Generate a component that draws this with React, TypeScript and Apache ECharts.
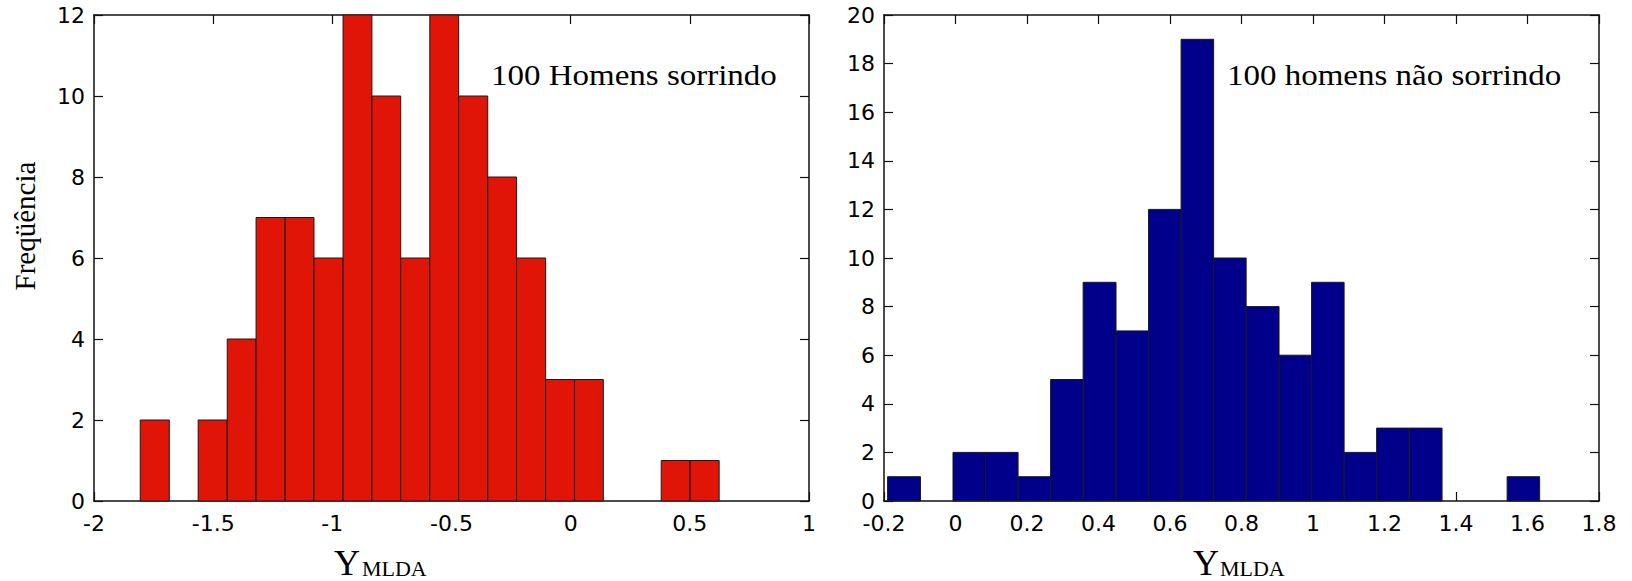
import React, { useEffect, useRef } from "react";
import * as echarts from "echarts";

// Left histogram: 100 men smiling
const leftEdges = [-1.806, -1.684, -1.563, -1.441, -1.320, -1.198, -1.077, -0.955, -0.834, -0.713, -0.591, -0.470, -0.348, -0.227, -0.105, 0.016, 0.137, 0.259, 0.380, 0.501, 0.623];
const leftCounts = [2, 0, 2, 4, 7, 7, 6, 12, 10, 6, 12, 10, 8, 6, 3, 3, 0, 0, 1, 1];

// Right histogram: 100 men not smiling
const rightEdges = [-0.190, -0.098, -0.007, 0.084, 0.175, 0.266, 0.357, 0.449, 0.540, 0.631, 0.722, 0.813, 0.905, 0.996, 1.087, 1.178, 1.269, 1.361, 1.452, 1.543, 1.634];
const rightCounts = [1, 0, 2, 2, 1, 5, 9, 7, 12, 19, 10, 8, 6, 9, 2, 3, 3, 0, 0, 1];

const leftLabel = "100 Homens sorrindo";
const rightLabel = "100 homens não sorrindo";
const yTitle = "Freqüência";
const xTitleMain = "Y";
const xTitleSub = "MLDA";

const SANS = "'DejaVu Sans', Verdana, sans-serif";
const SERIF = "'Liberation Serif', 'Times New Roman', serif";

function toBins(edges: number[], counts: number[]) {
  return counts.map((c, i) => [edges[i], edges[i + 1], c]);
}

function makeRender(fill: string) {
  return (params: any, api: any) => {
    const x0 = api.value(0);
    const x1 = api.value(1);
    const y = api.value(2);
    if (!y) return null;
    const p0 = api.coord([x0, 0]);
    const p1 = api.coord([x1, y]);
    return {
      type: "rect",
      shape: { x: p0[0], y: p1[1], width: p1[0] - p0[0], height: p0[1] - p1[1] },
      style: { fill, stroke: "#1a1a1a", lineWidth: 1 },
    };
  };
}

const axisLineStyle = { color: "#111", width: 1.5 };
const tickStyle = { show: true, inside: true, length: 9, lineStyle: { color: "#111", width: 1.2 } };

function xAxes(gridIndex: number, min: number, max: number, interval: number) {
  return [
    {
      type: "value",
      gridIndex,
      min,
      max,
      interval,
      position: "bottom",
      axisLine: { show: true, onZero: false, lineStyle: axisLineStyle },
      axisTick: tickStyle,
      axisLabel: { show: true, margin: 11, fontSize: 22, fontFamily: SANS, color: "#000" },
      splitLine: { show: false },
    },
    {
      type: "value",
      gridIndex,
      min,
      max,
      interval,
      position: "top",
      axisLine: { show: true, onZero: false, lineStyle: axisLineStyle },
      axisTick: tickStyle,
      axisLabel: { show: false },
      splitLine: { show: false },
    },
  ];
}

function yAxes(gridIndex: number, max: number) {
  return [
    {
      type: "value",
      gridIndex,
      min: 0,
      max,
      interval: 2,
      position: "left",
      axisLine: { show: true, onZero: false, lineStyle: axisLineStyle },
      axisTick: tickStyle,
      axisLabel: { show: true, margin: 9, fontSize: 22, fontFamily: SANS, color: "#000", padding: [4, 0, 0, 0] },
      splitLine: { show: false },
    },
    {
      type: "value",
      gridIndex,
      min: 0,
      max,
      interval: 2,
      position: "right",
      axisLine: { show: true, onZero: false, lineStyle: axisLineStyle },
      axisTick: tickStyle,
      axisLabel: { show: false },
      splitLine: { show: false },
    },
  ];
}

function axisTitle(xY: number, xSub: number) {
  return [
    {
      type: "text",
      x: xY,
      y: 580.5,
      style: { text: xTitleMain, fontSize: 36, fontFamily: SERIF, fill: "#000", align: "left", verticalAlign: "bottom" },
    },
    {
      type: "text",
      x: xSub,
      y: 579,
      scaleX: 1.1,
      style: { text: xTitleSub, fontSize: 20, fontFamily: SERIF, fill: "#000", align: "left", verticalAlign: "bottom" },
    },
  ];
}

export default function App() {
  const ref = useRef<HTMLDivElement>(null);
  useEffect(() => {
    if (!ref.current) return;
    const chart = echarts.init(ref.current, undefined, { renderer: "svg" });
    chart.setOption({
      animation: false,
      backgroundColor: "#fff",
      grid: [
        { left: 94, top: 15, width: 715, height: 486 },
        { left: 884, top: 15, width: 715, height: 486 },
      ],
      xAxis: [...xAxes(0, -2, 1, 0.5), ...xAxes(1, -0.2, 1.8, 0.2)],
      yAxis: [...yAxes(0, 12), ...yAxes(1, 20)],
      series: [
        {
          type: "custom",
          xAxisIndex: 0,
          yAxisIndex: 0,
          renderItem: makeRender("#e01508"),
          encode: { x: [0, 1], y: 2 },
          data: toBins(leftEdges, leftCounts),
        },
        {
          type: "custom",
          xAxisIndex: 2,
          yAxisIndex: 2,
          renderItem: makeRender("#00008b"),
          encode: { x: [0, 1], y: 2 },
          data: toBins(rightEdges, rightCounts),
        },
      ],
      graphic: [
        {
          type: "text",
          x: 491,
          y: 75,
          scaleX: 1.1,
          style: { text: leftLabel, fontSize: 30, fontFamily: SERIF, fill: "#000", align: "left", verticalAlign: "middle" },
        },
        {
          type: "text",
          x: 1227,
          y: 75,
          scaleX: 1.1,
          style: { text: rightLabel, fontSize: 30, fontFamily: SERIF, fill: "#000", align: "left", verticalAlign: "middle" },
        },
        {
          type: "text",
          x: 25,
          y: 226,
          rotation: Math.PI / 2,
          style: { text: yTitle, fontSize: 29, fontFamily: SERIF, fill: "#000", align: "center", verticalAlign: "middle" },
        },
        ...axisTitle(334, 362),
        ...axisTitle(1193, 1220),
      ],
    });
    return () => chart.dispose();
  }, []);
  return <div ref={ref} style={{ position: "absolute", left: 0, top: 0, width: 1632, height: 581 }} />;
}
